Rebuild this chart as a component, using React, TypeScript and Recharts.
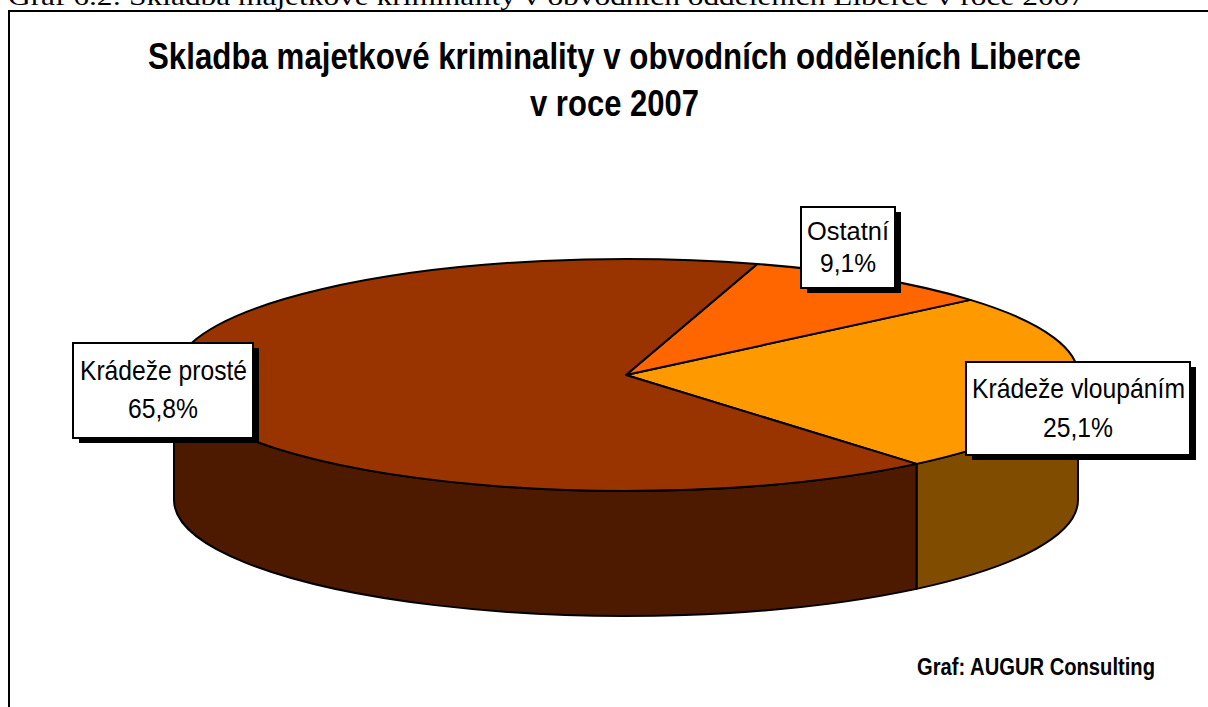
import React from "react";
import { PieChart, Pie } from "recharts";

const categories = ["Krádeže vloupáním", "Ostatní", "Krádeže prosté"];
const valueLabels = ["25,1%", "9,1%", "65,8%"];
const values = [25.1, 9.1, 65.8];
const topColors = ["#FF9900", "#FF6600", "#993300"];
const wallColors = ["#804D00", "#A33D00", "#4D1A00"];
const tableData = categories.map((name, i) => ({
  name,
  value: values[i],
  display: valueLabels[i],
  fill: topColors[i],
  wall: wallColors[i],
}));

const W = 1208;
const H = 707;
const CX = 626;
const CY = 375;
const RX = 452;
const RY = 116;
const DEPTH = 125;
const START = -50;

const pt = (cx: number, cy: number, r: number, deg: number, dy = 0) => {
  const a = (deg * Math.PI) / 180;
  return [cx + r * Math.cos(a), cy - (r * RY) / RX * Math.sin(a) + dy];
};

const TopSector = (p: any) => {
  const { cx, cy, outerRadius: r, startAngle: a0, endAngle: a1, fill } = p;
  const ry = (r * RY) / RX;
  const [x0, y0] = pt(cx, cy, r, a0);
  const [x1, y1] = pt(cx, cy, r, a1);
  const large = a1 - a0 > 180 ? 1 : 0;
  return (
    <path
      d={`M${cx},${cy} L${x0},${y0} A${r},${ry} 0 ${large} 0 ${x1},${y1} Z`}
      fill={fill}
      stroke="#000"
      strokeWidth={2}
      strokeLinejoin="round"
    />
  );
};

const WallSector = (p: any) => {
  const { cx, cy, outerRadius: r, startAngle: a0, endAngle: a1, payload } = p;
  const ry = (r * RY) / RX;
  const parts: [number, number][] = [];
  // visible front half of the rim is 180..360 degrees (and its -180..0 alias)
  for (const [lo, hi] of [[-180, 0], [180, 360]]) {
    const s = Math.max(a0, lo);
    const e = Math.min(a1, hi);
    if (e > s) parts.push([s, e]);
  }
  return (
    <g>
      {parts.map(([s, e], i) => {
        const [x0, y0] = pt(cx, cy, r, s);
        const [x1, y1] = pt(cx, cy, r, e);
        return (
          <path
            key={i}
            d={`M${x0},${y0} A${r},${ry} 0 0 0 ${x1},${y1} L${x1},${y1 + DEPTH} A${r},${ry} 0 0 1 ${x0},${y0 + DEPTH} Z`}
            fill={payload?.wall ?? p.wall}
            stroke="#000"
            strokeWidth={2}
            strokeLinejoin="round"
          />
        );
      })}
    </g>
  );
};

const boxes = [
  { x: 966, y: 362, w: 224, h: 93, tx: 972, tw: 213, b1: 398, b2: 437, vx: 1043, vw: 70, fs: 28 },
  { x: 801, y: 207, w: 94, h: 81, tx: 807, tw: 82, b1: 240, b2: 272, vx: 820, vw: 56, fs: 26 },
  { x: 73, y: 343, w: 180, h: 95, tx: 80, tw: 167, b1: 380, b2: 418, vx: 128, vw: 70, fs: 28 },
];

const renderLabel = (p: any) => {
  const b = boxes[p.index];
  const e = tableData[p.index];
  return (
    <g key={p.index}>
      <rect x={b.x + 6} y={b.y + 5} width={b.w} height={b.h} fill="#000" />
      <rect x={b.x} y={b.y} width={b.w} height={b.h} fill="#fff" stroke="#000" strokeWidth={2} />
      <text x={b.tx} y={b.b1} textLength={b.tw} lengthAdjust="spacingAndGlyphs" fontFamily="Liberation Sans" fontSize={b.fs} fill="#000">
        {e.name}
      </text>
      <text x={b.vx} y={b.b2} textLength={b.vw} lengthAdjust="spacingAndGlyphs" fontFamily="Liberation Sans" fontSize={b.fs} fill="#000">
        {e.display}
      </text>
    </g>
  );
};

export default function App() {
  return (
    <div style={{ position: "absolute", left: 0, top: 0, width: W, height: H, overflow: "hidden", background: "#fff" }}>
      <PieChart width={W} height={H} margin={{ top: 0, right: 0, bottom: 0, left: 0 }}>
        <text x={8} y={5} fontFamily="Liberation Serif" fontSize={26} fill="#000" textLength={1077} lengthAdjust="spacingAndGlyphs">
          Graf 6.2: Skladba majetkové kriminality v obvodních odděleních Liberce v roce 2007
        </text>
        <rect x={9} y={11} width={1300} height={800} fill="none" stroke="#000" strokeWidth={2} />
        <text x={148} y={69} fontFamily="Liberation Sans" fontWeight="bold" fontSize={37} fill="#000" textLength={933} lengthAdjust="spacingAndGlyphs">
          Skladba majetkové kriminality v obvodních odděleních Liberce
        </text>
        <text x={530} y={116} fontFamily="Liberation Sans" fontWeight="bold" fontSize={37} fill="#000" textLength={169} lengthAdjust="spacingAndGlyphs">
          v roce 2007
        </text>
        <text x={917} y={675} fontFamily="Liberation Sans" fontWeight="bold" fontSize={23} fill="#000" textLength={238} lengthAdjust="spacingAndGlyphs">
          Graf: AUGUR Consulting
        </text>
        <Pie
          data={tableData}
          dataKey="value"
          nameKey="name"
          cx={CX}
          cy={CY}
          innerRadius={0}
          outerRadius={RX}
          startAngle={START}
          endAngle={START + 360}
          paddingAngle={0}
          isAnimationActive={false}
          shape={WallSector}
          activeShape={WallSector}
          inactiveShape={WallSector}
          label={false}
          labelLine={false}
        />
        <Pie
          data={tableData}
          dataKey="value"
          nameKey="name"
          cx={CX}
          cy={CY}
          innerRadius={0}
          outerRadius={RX}
          startAngle={START}
          endAngle={START + 360}
          paddingAngle={0}
          isAnimationActive={false}
          shape={TopSector}
          activeShape={TopSector}
          inactiveShape={TopSector}
          label={renderLabel}
          labelLine={false}
        />
      </PieChart>
    </div>
  );
}
